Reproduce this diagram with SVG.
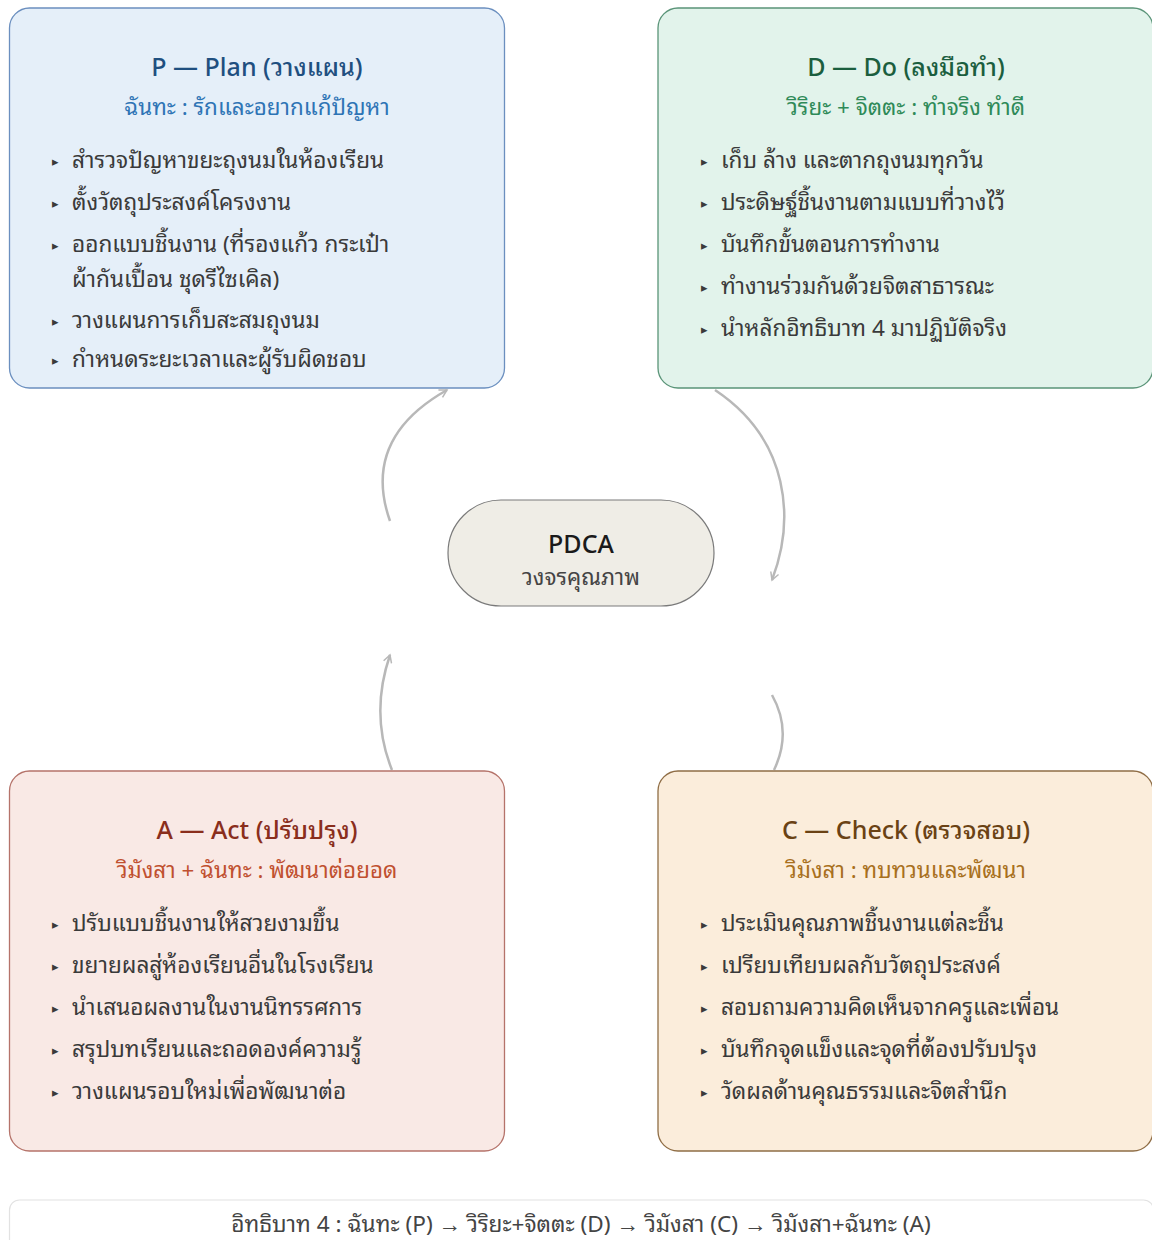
<svg xmlns="http://www.w3.org/2000/svg" width="1152" height="1240" viewBox="0 0 1152 1240">
<defs>
<style>
text{font-family:"Noto Sans","Noto Sans Thai Looped","Leelawadee UI","Tahoma","Loma","Garuda","Waree","Norasi","Noto Sans Thai",sans-serif;}
.ttl{font-size:25px;font-weight:500;text-anchor:middle;}
.sub{font-size:22.4px;text-anchor:middle;}
.it{font-size:22.6px;fill:#3a3a3a;}
.bl{font-size:13px;fill:#3a3a3a;}
.box{stroke-width:1.3;}
.edge{fill:none;stroke:#b8b8b8;stroke-width:2.5;}
</style>
<marker id="ah" viewBox="0 0 12 12" refX="10" refY="6" markerWidth="10" markerHeight="10" markerUnits="userSpaceOnUse" orient="auto">
<path d="M1,1 L10,6 L1,11" fill="none" stroke="#b8b8b8" stroke-width="1.8"/>
</marker>
</defs>
<rect width="1152" height="1240" fill="#ffffff"/>

<g id="connectors">
<path class="edge" d="M390,521 C372,470 385,425 447,390" marker-end="url(#ah)"/>
<path class="edge" d="M715,390 C790,440 795,520 772,580" marker-end="url(#ah)"/>
<path class="edge" d="M392,770 C376,730 378,690 390,655" marker-end="url(#ah)"/>
<path class="edge" d="M772,695 C786,720 786,745 774,770"/>
</g>

<g id="node-plan">
<rect class="box" x="9.5" y="8" width="495" height="380" rx="20" fill="#e5eff9" stroke="#6b8fbf"/>
<text class="ttl" x="257" y="76" fill="#1f4f80">P — Plan (วางแผน)</text>
<text class="sub" x="257" y="115" fill="#2e74b5">ฉันทะ : รักและอยากแก้ปัญหา</text>
<text class="bl" x="52" y="166">▸</text><text class="it" x="72" y="168">สำรวจปัญหาขยะถุงนมในห้องเรียน</text>
<text class="bl" x="52" y="208">▸</text><text class="it" x="72" y="210">ตั้งวัตถุประสงค์โครงงาน</text>
<text class="bl" x="52" y="250">▸</text><text class="it" x="72" y="252">ออกแบบชิ้นงาน (ที่รองแก้ว กระเป๋า</text>
<text class="it" x="72" y="287">ผ้ากันเปื้อน ชุดรีไซเคิล)</text>
<text class="bl" x="52" y="326">▸</text><text class="it" x="72" y="328">วางแผนการเก็บสะสมถุงนม</text>
<text class="bl" x="52" y="365">▸</text><text class="it" x="72" y="367">กำหนดระยะเวลาและผู้รับผิดชอบ</text>
</g>

<g id="node-do">
<rect class="box" x="658" y="8" width="495" height="380" rx="20" fill="#e2f3eb" stroke="#5a9478"/>
<text class="ttl" x="906" y="76" fill="#1b5e3e">D — Do (ลงมือทำ)</text>
<text class="sub" x="906" y="115" fill="#2e8a58">วิริยะ + จิตตะ : ทำจริง ทำดี</text>
<text class="bl" x="701" y="166">▸</text><text class="it" x="721" y="168">เก็บ ล้าง และตากถุงนมทุกวัน</text>
<text class="bl" x="701" y="208">▸</text><text class="it" x="721" y="210">ประดิษฐ์ชิ้นงานตามแบบที่วางไว้</text>
<text class="bl" x="701" y="250">▸</text><text class="it" x="721" y="252">บันทึกขั้นตอนการทำงาน</text>
<text class="bl" x="701" y="292">▸</text><text class="it" x="721" y="294">ทำงานร่วมกันด้วยจิตสาธารณะ</text>
<text class="bl" x="701" y="334">▸</text><text class="it" x="721" y="336">นำหลักอิทธิบาท 4 มาปฏิบัติจริง</text>
</g>

<g id="node-pdca">
<rect x="448" y="500" width="266" height="106" rx="53" fill="#efede6" stroke="#7a7a7a" stroke-width="1.2"/>
<text x="581" y="553" text-anchor="middle" font-size="25" font-weight="500" fill="#1a1a1a">PDCA</text>
<text x="581" y="585" text-anchor="middle" font-size="22.4" fill="#444444">วงจรคุณภาพ</text>
</g>

<g id="node-act">
<rect class="box" x="9.5" y="771" width="495" height="380" rx="20" fill="#f9e9e5" stroke="#b5736a"/>
<text class="ttl" x="257" y="839" fill="#8a2e1c">A — Act (ปรับปรุง)</text>
<text class="sub" x="257" y="878" fill="#c0502f">วิมังสา + ฉันทะ : พัฒนาต่อยอด</text>
<text class="bl" x="52" y="929">▸</text><text class="it" x="72" y="931">ปรับแบบชิ้นงานให้สวยงามขึ้น</text>
<text class="bl" x="52" y="971">▸</text><text class="it" x="72" y="973">ขยายผลสู่ห้องเรียนอื่นในโรงเรียน</text>
<text class="bl" x="52" y="1013">▸</text><text class="it" x="72" y="1015">นำเสนอผลงานในงานนิทรรศการ</text>
<text class="bl" x="52" y="1055">▸</text><text class="it" x="72" y="1057">สรุปบทเรียนและถอดองค์ความรู้</text>
<text class="bl" x="52" y="1097">▸</text><text class="it" x="72" y="1099">วางแผนรอบใหม่เพื่อพัฒนาต่อ</text>
</g>

<g id="node-check">
<rect class="box" x="658" y="771" width="495" height="380" rx="20" fill="#fbeddb" stroke="#8f6d45"/>
<text class="ttl" x="906" y="839" fill="#6a4214">C — Check (ตรวจสอบ)</text>
<text class="sub" x="906" y="878" fill="#a8701d">วิมังสา : ทบทวนและพัฒนา</text>
<text class="bl" x="701" y="929">▸</text><text class="it" x="721" y="931">ประเมินคุณภาพชิ้นงานแต่ละชิ้น</text>
<text class="bl" x="701" y="971">▸</text><text class="it" x="721" y="973">เปรียบเทียบผลกับวัตถุประสงค์</text>
<text class="bl" x="701" y="1013">▸</text><text class="it" x="721" y="1015">สอบถามความคิดเห็นจากครูและเพื่อน</text>
<text class="bl" x="701" y="1055">▸</text><text class="it" x="721" y="1057">บันทึกจุดแข็งและจุดที่ต้องปรับปรุง</text>
<text class="bl" x="701" y="1097">▸</text><text class="it" x="721" y="1099">วัดผลด้านคุณธรรมและจิตสำนึก</text>
</g>

<g id="footer">
<rect x="9.5" y="1200" width="1144" height="60" rx="10" fill="#ffffff" stroke="#e2e2e2" stroke-width="1.2"/>
<text x="581" y="1232" text-anchor="middle" font-size="22.6" fill="#444444">อิทธิบาท 4 : ฉันทะ (P) → วิริยะ+จิตตะ (D) → วิมังสา (C) → วิมังสา+ฉันทะ (A)</text>
</g>
</svg>
